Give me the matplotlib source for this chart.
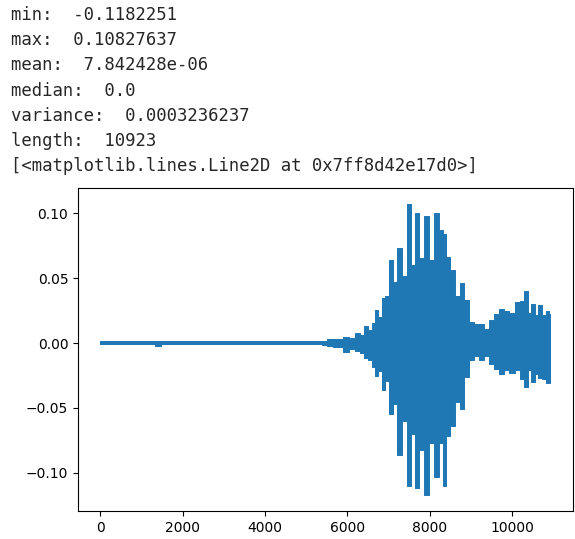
import numpy as np
import matplotlib.pyplot as plt

# printed stats above the plot
stat_lines = [
    "min:  -0.1182251",
    "max:  0.10827637",
    "mean:  7.842428e-06",
    "median:  0.0",
    "variance:  0.0003236237",
    "length:  10923",
    "[<matplotlib.lines.Line2D at 0x7ff8d42e17d0>]",
]

# waveform envelope (sample index, upper peak, lower peak)
sample_x = [0, 250, 500, 750, 1000, 1250, 1400, 1550, 1800, 2050, 2300, 2550,
            2800, 3050, 3300, 3550, 3800, 4050, 4300, 4550, 4800, 5050, 5300,
            5450, 5575, 5700, 5820, 5980, 6100,
            6255, 6360, 6465, 6550, 6626, 6707, 6790, 6868, 6950, 7070, 7150,
            7272, 7390, 7490, 7595, 7693, 7800, 7920, 8040, 8160, 8283, 8364,
            8440, 8565, 8670, 8790, 8890, 9010, 9130, 9250, 9375, 9495, 9615,
            9740, 9860, 9980, 10140, 10240, 10327, 10425, 10505, 10585, 10665,
            10790, 10870, 10922]
upper = [0.0013, 0.0013, 0.0013, 0.0013, 0.0013, 0.0013, 0.0013, 0.0013, 0.0013,
         0.0013, 0.0013, 0.0013, 0.0013, 0.0013, 0.0013, 0.0013, 0.0013, 0.0013,
         0.0013, 0.0013, 0.0013, 0.0015, 0.0016, 0.0018, 0.0028, 0.0032, 0.0033,
         0.0050, 0.0040,
         0.0077, 0.0060, 0.0128, 0.0100, 0.0153, 0.0256, 0.0200, 0.0346, 0.0360,
         0.0640, 0.0470, 0.0730, 0.0520, 0.1070, 0.0600, 0.1000, 0.0655, 0.0980,
         0.0640, 0.1000, 0.0870, 0.0840, 0.0667, 0.0560, 0.0360, 0.0460, 0.0330,
         0.0160, 0.0145, 0.0145, 0.0110, 0.0175, 0.0225, 0.0265, 0.0245, 0.0235,
         0.0315, 0.0325, 0.0405, 0.0235, 0.0305, 0.0215, 0.0295, 0.0215, 0.0250,
         0.0225]
lower = [-0.0005, -0.0005, -0.0005, -0.0005, -0.0005, -0.0005, -0.0022, -0.0005,
         -0.0005, -0.0005, -0.0005, -0.0005, -0.0005, -0.0005, -0.0005, -0.0005,
         -0.0005, -0.0005, -0.0005, -0.0005, -0.0005, -0.0007, -0.0010, -0.0013,
         -0.0024, -0.0028, -0.0030, -0.0068, -0.0043,
         -0.0063, -0.0078, -0.0113, -0.0128, -0.0188, -0.0255, -0.0218, -0.0358,
         -0.0293, -0.0548, -0.0468, -0.0860, -0.0598, -0.1105, -0.0698, -0.1120,
         -0.0828, -0.1170, -0.0768, -0.1030, -0.0768, -0.1100, -0.0718, -0.0638,
         -0.0458, -0.0505, -0.0258, -0.0128, -0.0098, -0.0128, -0.0098, -0.0165,
         -0.0198, -0.0238, -0.0208, -0.0228, -0.0208, -0.0278, -0.0340, -0.0208,
         -0.0298, -0.0238, -0.0268, -0.0278, -0.0305, -0.0305]

W, H = 575, 539
fig = plt.figure(figsize=(W / 100, H / 100), dpi=100)

for i, line in enumerate(stat_lines):
    fig.text(11 / W, 1 - (15 + 25.2 * i) / H, line, family="DejaVu Sans Mono",
             fontsize=12.4, color="#262626", va="center", ha="left")

ax = fig.add_axes([78 / W, 1 - 511 / H, (572.5 - 78) / W, (511 - 188) / H])

# dense waveform drawn as its min/max envelope
color = "#1f77b4"
ax.fill_between(sample_x, lower, upper, step="mid", facecolor=color,
                edgecolor=color, lw=0.7)

ax.set_xlim(-546, 11468)
ax.set_ylim(-0.1295, 0.1196)
ax.set_xticks([0, 2000, 4000, 6000, 8000, 10000])
ax.set_yticks([-0.10, -0.05, 0.00, 0.05, 0.10])
ax.tick_params(labelsize=10)

fig.savefig("out.png", dpi=100)
